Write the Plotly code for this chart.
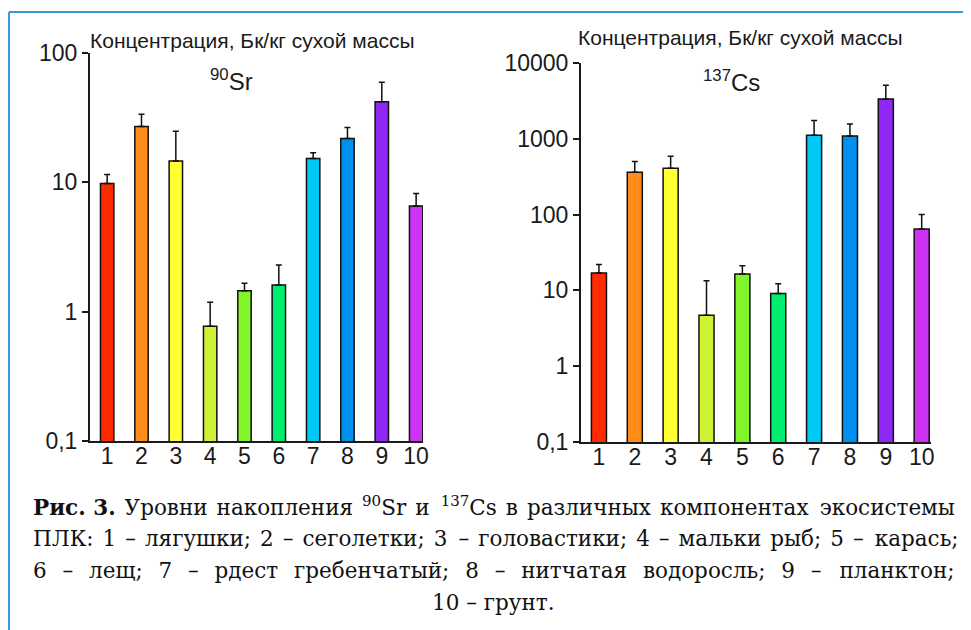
import plotly.graph_objects as go

# The page body has an 8 px margin, so the figure is sized to fit the window
OFF = 8
W, H = 971 - OFF, 630 - OFF

categories = [1, 2, 3, 4, 5, 6, 7, 8, 9, 10]
tick_labels = ["1", "2", "3", "4", "5", "6", "7", "8", "9", "10"]
colors = ["#ff2a00", "#ff8c1a", "#ffff33", "#ccf233", "#80f52a",
          "#00ee70", "#00c8f5", "#0090f0", "#9028f5", "#cc33f5"]

sr90_values = [9.8, 27.0, 14.6, 0.77, 1.45, 1.61, 15.3, 21.8, 41.9, 6.55]
sr90_upper = [11.5, 33.6, 24.8, 1.18, 1.66, 2.30, 16.9, 26.5, 59.3, 8.2]

cs137_values = [17.0, 363, 408, 4.7, 16.4, 9.1, 1110, 1090, 3350, 64.5]
cs137_upper = [22.0, 500, 587, 13.4, 21.2, 12.2, 1750, 1570, 5100, 100]

sr_ticks = [0.1, 1, 10, 100]
sr_ticktext = ["0,1", "1", "10", "100"]
cs_ticks = [0.1, 1, 10, 100, 1000, 10000]
cs_ticktext = ["0,1", "1", "10", "100", "1000", "10000"]

axis_title = "Концентрация, Бк/кг сухой массы"
caption_lines = [
    "<b>Рис.\u00a03.</b> Уровни накопления <sup>90</sup>Sr и <sup>137</sup>Cs в различных компонентах экосистемы",
    "ПЛК: 1 – лягушки; 2 – сеголетки; 3 – головастики; 4 – мальки рыб; 5 – карась;",
    "6 – лещ; 7 – рдест гребенчатый; 8 – нитчатая водоросль; 9 – планктон;",
    "10 – грунт.",
]

HAIR, NBSP = "\u200a", "\u00a0"
# word-space padding imitating the justified paragraph: (base fill, bonus fill, number of gaps with bonus)
caption_fill = [(HAIR, HAIR, 2), (HAIR, HAIR, 2), (NBSP + HAIR, HAIR, 1), ("", "", 0)]


def justify(text, fill, bonus, nbonus):
    words = text.split(" ")
    ng = len(words) - 1
    out = words[0]
    for j in range(ng):
        extra = bonus if nbonus and ((j + 1) * nbonus) // ng != (j * nbonus) // ng else ""
        out += " " + fill + extra + words[j + 1]
    return out


def px(x):
    return (x - OFF) / W


def py(y):
    return 1 - (y - OFF) / H


SANS = "Liberation Sans, Arial, sans-serif"
SERIF = "DejaVu Serif, serif"
INK = "#1a1a1a"

fig = go.Figure()

fig.add_trace(go.Bar(
    x=categories, y=sr90_values, width=0.39,
    marker=dict(color=colors, line=dict(color="#111", width=1.5)),
    error_y=dict(type="data", symmetric=False,
                 array=[u - v for u, v in zip(sr90_upper, sr90_values)],
                 arrayminus=[0] * len(sr90_values),
                 color="#111", thickness=1.5, width=3),
    xaxis="x", yaxis="y", showlegend=False, hoverinfo="x+y",
))

fig.add_trace(go.Bar(
    x=categories, y=cs137_values, width=0.42,
    marker=dict(color=colors, line=dict(color="#111", width=1.5)),
    error_y=dict(type="data", symmetric=False,
                 array=[u - v for u, v in zip(cs137_upper, cs137_values)],
                 arrayminus=[0] * len(cs137_values),
                 color="#111", thickness=1.5, width=3),
    xaxis="x2", yaxis="y2", showlegend=False, hoverinfo="x+y",
))

xcommon = dict(tickmode="array", tickvals=categories, ticktext=tick_labels,
               ticks="", showgrid=False, zeroline=False, showline=True,
               linecolor=INK, linewidth=2, automargin=False, ticklabelstandoff=-7,
               tickfont=dict(family=SANS, size=23, color=INK))
ycommon = dict(type="log", tickmode="array", ticks="outside", ticklen=6,
               tickwidth=1.5, tickcolor=INK, showgrid=False, zeroline=False,
               showline=True, linecolor=INK, linewidth=2, automargin=False,
               tickfont=dict(family=SANS, size=23, color=INK))

fig.update_layout(
    width=W, height=H,
    margin=dict(l=0, r=0, t=0, b=0, autoexpand=False),
    paper_bgcolor="white", plot_bgcolor="white",
    xaxis=dict(domain=[px(90), px(423)], range=[0.5, 10.2], anchor="y", **xcommon),
    yaxis=dict(domain=[py(441), py(53)], range=[-1, 2], tickvals=sr_ticks,
               ticktext=sr_ticktext, anchor="x", **ycommon),
    xaxis2=dict(domain=[px(581), px(931)], range=[0.5, 10.26], anchor="y2", **xcommon),
    yaxis2=dict(domain=[py(442), py(63)], range=[-1, 4], tickvals=cs_ticks,
                ticktext=cs_ticktext, anchor="x2", **ycommon),
)

annotations = [
    dict(x=px(252), y=py(40), text=axis_title,
         font=dict(family=SANS, size=21, color=INK)),
    dict(x=px(740), y=py(38), text=axis_title,
         font=dict(family=SANS, size=21, color=INK)),
    dict(x=px(231), y=py(80), text="<sup>90</sup>Sr",
         font=dict(family=SANS, size=24, color=INK)),
    dict(x=px(731), y=py(81), text="<sup>137</sup>Cs",
         font=dict(family=SANS, size=24, color=INK)),
]
line_y = [506, 538, 570, 602]
for i, t in enumerate(caption_lines):
    t = justify(t, *caption_fill[i])
    if i < 3:
        annotations.append(dict(x=px(31), y=py(line_y[i]), xanchor="left", text=t,
                                font=dict(family=SERIF, size=21.5, color="#111")))
    else:
        annotations.append(dict(x=px(494), y=py(line_y[i]), xanchor="center", text=t,
                                font=dict(family=SERIF, size=21.5, color="#111")))
for a in annotations:
    a.update(xref="paper", yref="paper", showarrow=False, yanchor="middle")
    a.setdefault("xanchor", "center")
fig.update_layout(annotations=annotations)

fig.update_layout(shapes=[
    dict(type="line", xref="paper", yref="paper", x0=px(9), x1=1, y0=py(12), y1=py(12),
         line=dict(color="#3d9ad6", width=2)),
    dict(type="line", xref="paper", yref="paper", x0=px(9), x1=px(9), y0=py(12), y1=0,
         line=dict(color="#3d9ad6", width=2)),
])

fig.write_html("out.html")
